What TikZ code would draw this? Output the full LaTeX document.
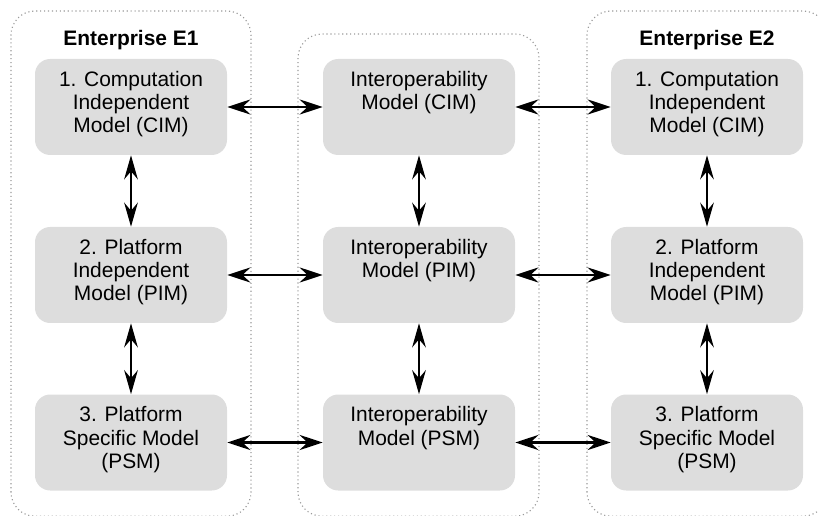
\documentclass[tikz,border=0pt]{standalone}
\usepackage{fontspec}
\setmainfont{Liberation Sans}
\usetikzlibrary{arrows.meta,positioning}
\definecolor{boxgray}{HTML}{DDDDDD}
\definecolor{framegray}{HTML}{9A9A9A}
\newcommand{\mdltext}[1]{\parbox[c][1.8cm][t]{4.7cm}{\centering #1}}

\begin{document}
\begin{tikzpicture}[
  every node/.style={font=\fontsize{14.9}{16.6}\selectfont},
  mdl/.style={fill=boxgray, rounded corners=0.38cm, minimum width=4.8cm, minimum height=2.4cm, inner xsep=0.05cm, inner ysep=0.3cm},
  frame/.style={draw=framegray, dotted, line width=0.8pt, rounded corners=0.6cm},
  title/.style={font=\fontsize{14.9}{16.6}\selectfont\bfseries},
  link/.style={{Stealth[length=0.58cm, width=0.38cm, inset=0.2cm]}-{Stealth[length=0.58cm, width=0.38cm, inset=0.2cm]}, line width=1.5pt},
  vlink/.style={{Stealth[length=0.6cm, width=0.34cm, inset=0.2cm]}-{Stealth[length=0.6cm, width=0.34cm, inset=0.2cm]}, line width=1.9pt}
]
\useasboundingbox (0,0) rectangle (20.45,12.875);
\clip (0,0) rectangle (20.45,12.875);

% enterprise and interoperability frames
\draw[frame] (0.275,-0.03) rectangle (6.275,12.6);
\draw[frame] (7.45,-0.03) rectangle (13.475,12.025);
\draw[frame] (14.675,-0.03) rectangle (20.675,12.6);

\node[title] (t1) at (3.275,11.875) {Enterprise E1};
\node[title] (t2) at (17.675,11.875) {Enterprise E2};

% enterprise E1
\node[mdl] (e1cim) at (3.275,10.2) {\mdltext{1. Computation\\Independent\\Model (CIM)}};
\node[mdl] (e1pim) at (3.275,6.0) {\mdltext{2. Platform\\Independent\\Model (PIM)}};
\node[mdl] (e1psm) at (3.275,1.8125) {\mdltext{3. Platform\\Specific Model\\(PSM)}};

% interoperability
\node[mdl] (icim) at (10.475,10.2) {\mdltext{Interoperability\\Model (CIM)}};
\node[mdl] (ipim) at (10.475,6.0) {\mdltext{Interoperability\\Model (PIM)}};
\node[mdl] (ipsm) at (10.475,1.8125) {\mdltext{Interoperability\\Model (PSM)}};

% enterprise E2
\node[mdl] (e2cim) at (17.675,10.2) {\mdltext{1. Computation\\Independent\\Model (CIM)}};
\node[mdl] (e2pim) at (17.675,6.0) {\mdltext{2. Platform\\Independent\\Model (PIM)}};
\node[mdl] (e2psm) at (17.675,1.8125) {\mdltext{3. Platform\\Specific Model\\(PSM)}};

\foreach \r in {cim,pim,psm} {
  \draw[link] (e1\r) -- (i\r);
  \draw[link] (i\r) -- (e2\r);
}
\foreach \c in {e1,i,e2} {
  \draw[vlink] (\c cim) -- (\c pim);
  \draw[vlink] (\c pim) -- (\c psm);
}
\end{tikzpicture}
\end{document}
